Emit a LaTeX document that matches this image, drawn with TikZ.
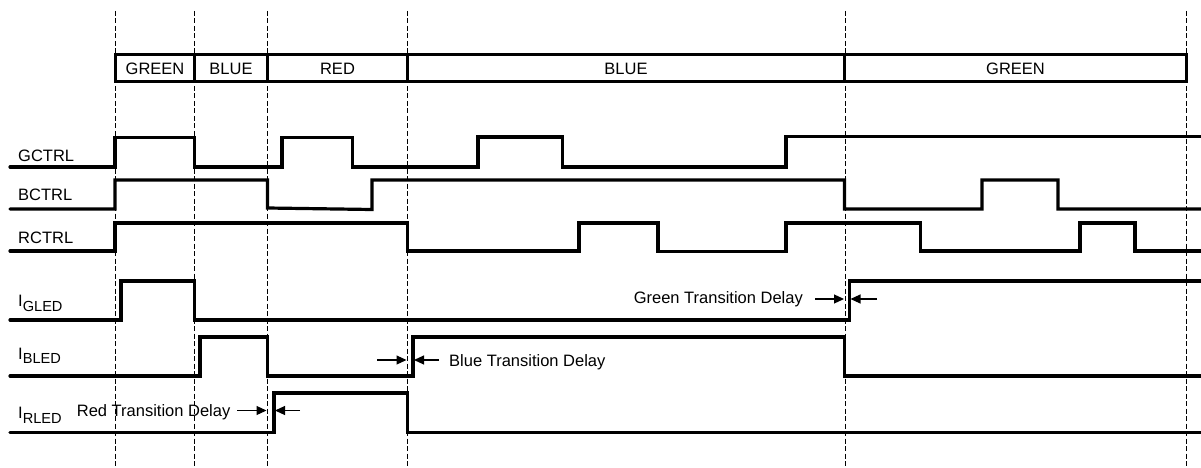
\documentclass[tikz,border=0pt]{standalone}
\usepackage{fontspec}
\setmainfont{Liberation Sans}
\usetikzlibrary{arrows.meta}
\begin{document}
\begin{tikzpicture}[x=1pt,y=-1pt,
  font=\fontsize{16.5}{19}\selectfont,
  guide/.style={draw=black,line width=1pt,dash pattern=on 5pt off 2.5pt},
  wave/.style={draw=black,line width=3.2pt,line cap=round,line join=miter},
  phasebox/.style={draw=black,line width=3.3pt},
  lbl/.style={inner sep=0pt,anchor=base west},
  phlbl/.style={inner sep=0pt,anchor=base},
  dly/.style={draw=black,line width=1.1pt,-{Triangle[length=10pt,width=9pt]}}]
\useasboundingbox (0,0) rectangle (1201,468);
\newcommand{\subsc}[1]{\raisebox{-4.5pt}{\fontsize{14.6}{16}\selectfont #1}}
% guide lines
\foreach \gx in {115,194.5,267.5,407.5,845,1186}
  \draw[guide] (\gx,11) -- (\gx,468);
% phase bar
\draw[phasebox] (115.5,54.3) rectangle (1186.5,81.7);
\foreach \gx in {194.5,267.5,407.5,844.5}
  \draw[phasebox] (\gx,54.3) -- (\gx,81.7);
\node[phlbl] (p1) at (155,74.3) {GREEN};
\node[phlbl] (p2) at (231,74.3) {BLUE};
\node[phlbl] (p3) at (337.5,74.3) {RED};
\node[phlbl] (p4) at (626,74.3) {BLUE};
\node[phlbl] (p5) at (1015.5,74.3) {GREEN};
% signal labels
\node[lbl] (gctrl) at (18,161) {GCTRL};
\node[lbl] (bctrl) at (18,200) {BCTRL};
\node[lbl] (rctrl) at (18,243) {RCTRL};
\node[lbl] (igled) at (18,306.5) {I\subsc{GLED}};
\node[lbl] (ibled) at (18,359) {I\subsc{BLED}};
\node[lbl] (irled) at (18,418.5) {I\subsc{RLED}};
% waveforms
\draw[wave] (10,167)--(115,167)--(115,137.5)--(194.5,137.5)--(194.5,167)--(282,167)--(282,137.5)--(352.5,137.5)--(352.5,167)--(478,167)--(478,137)--(562.5,137)--(562.5,167)--(786,167)--(786,136.5)--(1201,136.5);
\draw[wave] (10,209)--(115,209)--(115,180)--(267.5,180)--(267.5,208)--(372,209.5)--(372,180)--(844.5,180)--(844.5,209)--(982,209)--(982,180)--(1058,180)--(1058,209)--(1201,209);
\draw[wave] (10,251)--(115,251)--(115,223)--(407.5,223)--(407.5,251)--(579,251)--(579,223)--(658,223)--(658,251.5)--(786,251.5)--(786,223)--(920.5,223)--(920.5,251)--(1080,251)--(1080,223)--(1135,223)--(1135,251)--(1201,251);
\draw[wave] (10,320)--(121,320)--(121,281)--(194.5,281)--(194.5,320)--(849.5,320)--(849.5,281)--(1201,281);
\draw[wave] (10,376)--(200,376)--(200,337)--(267.5,337)--(267.5,376)--(413,376)--(413,337)--(844.5,337)--(844.5,376)--(1201,376);
\draw[wave] (10,432.5)--(274,432.5)--(274,393)--(407.5,393)--(407.5,432.5)--(1201,432.5);
% transition delays
\node[inner sep=0pt,anchor=base west] (rtd) at (76.7,416) {Red Transition Delay};
\coordinate (ra1) at (237,410.5); \coordinate (ra2) at (266.5,410.5);
\coordinate (rb1) at (300,410.5); \coordinate (rb2) at (275,410.5);
\draw[dly] (ra1) -- (ra2);
\draw[dly] (rb1) -- (rb2);
\node[inner sep=0pt,anchor=base west] (btd) at (449,366) {Blue Transition Delay};
\coordinate (ba1) at (377,360); \coordinate (ba2) at (406.5,360);
\coordinate (bb1) at (439,360); \coordinate (bb2) at (414,360);
\draw[dly] (ba1) -- (ba2);
\draw[dly] (bb1) -- (bb2);
\node[inner sep=0pt,anchor=base east] (gtd) at (803,303) {Green Transition Delay};
\coordinate (ga1) at (815,299); \coordinate (ga2) at (844,299);
\coordinate (gb1) at (877,299); \coordinate (gb2) at (850.5,299);
\draw[dly] (ga1) -- (ga2);
\draw[dly] (gb1) -- (gb2);
\end{tikzpicture}
\end{document}
